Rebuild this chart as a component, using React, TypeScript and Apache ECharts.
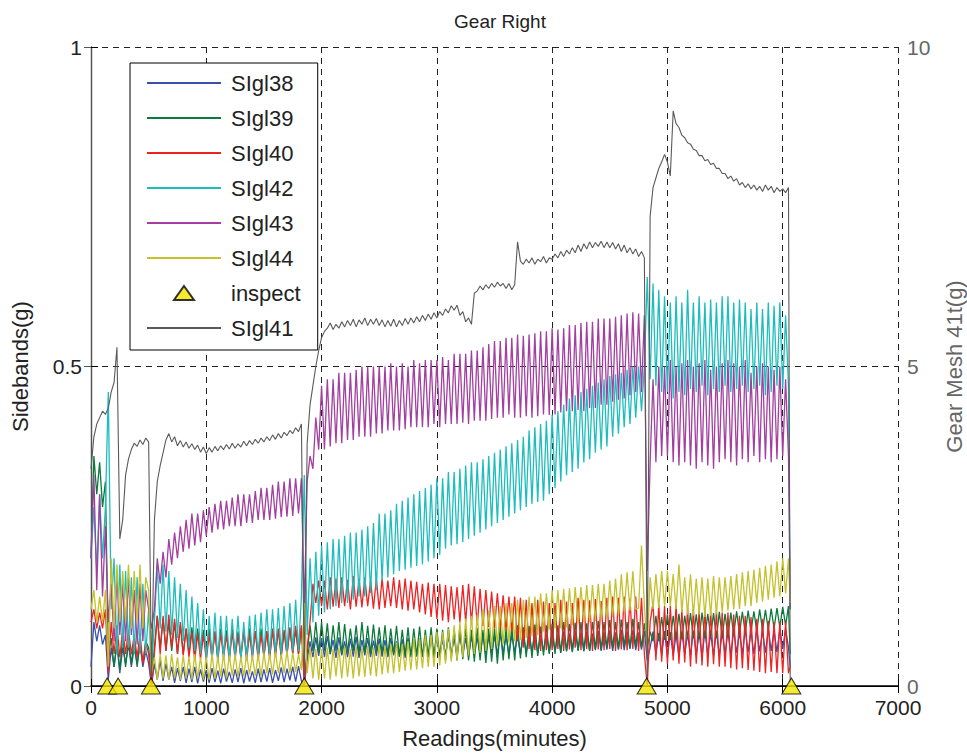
import React, { useEffect, useRef } from "react";
import * as echarts from "echarts";

const FONT = "'Liberation Sans', Arial, Helvetica, sans-serif";

const legendNames = ["SIgl38", "SIgl39", "SIgl40", "SIgl42", "SIgl43", "SIgl44", "inspect", "SIgl41"];
const xTicks = { min: 0, max: 7000, interval: 1000 };

// sample positions (minutes): every 25 minutes from 0 to 6050, then the final drop
const readings: number[] = Array.from({ length: 243 }, (_, i) => i * 25).concat([6065]);

const sigl38 = [
  0.03, 0.1, 0.07, 0.095, 0.065, 0.08, 0.01, 0.06, 0.03, 0.065, 0.02, 0.06, 0.035, 0.065, 0.03, 0.06, 0.035, 0.065, 0.03, 0.055,
  0.035, 0.0, 0.035, 0.01, 0.04, 0.008, 0.035, 0.01, 0.03, 0.005, 0.028, 0.008, 0.03, 0.005, 0.027, 0.006, 0.03, 0.004, 0.026, 0.007,
  0.025, 0.005, 0.028, 0.006, 0.024, 0.004, 0.027, 0.007, 0.022, 0.005, 0.026, 0.006, 0.028, 0.004, 0.025, 0.007, 0.023, 0.005, 0.027, 0.006,
  0.026, 0.007, 0.028, 0.005, 0.025, 0.008, 0.029, 0.006, 0.027, 0.009, 0.03, 0.007, 0.031, 0.008, 0.0, 0.04, 0.07, 0.045, 0.076, 0.047,
  0.075, 0.045, 0.078, 0.05, 0.072, 0.044, 0.076, 0.048, 0.07, 0.045, 0.074, 0.046, 0.077, 0.044, 0.072, 0.048, 0.075, 0.045, 0.071, 0.047,
  0.074, 0.046, 0.072, 0.045, 0.075, 0.048, 0.07, 0.046, 0.073, 0.044, 0.075, 0.048, 0.072, 0.046, 0.074, 0.047, 0.071, 0.045, 0.075, 0.048,
  0.076, 0.047, 0.073, 0.048, 0.078, 0.05, 0.074, 0.048, 0.079, 0.05, 0.075, 0.047, 0.078, 0.05, 0.076, 0.049, 0.08, 0.05, 0.077, 0.051,
  0.078, 0.05, 0.081, 0.052, 0.077, 0.05, 0.08, 0.053, 0.078, 0.05, 0.082, 0.052, 0.079, 0.053, 0.083, 0.051, 0.08, 0.054, 0.082, 0.052,
  0.083, 0.054, 0.08, 0.052, 0.085, 0.055, 0.082, 0.053, 0.086, 0.056, 0.083, 0.054, 0.085, 0.055, 0.082, 0.056, 0.086, 0.055, 0.084, 0.057,
  0.087, 0.055, 0.084, 0.057, 0.088, 0.056, 0.085, 0.058, 0.087, 0.056, 0.084, 0.057, 0.086, 0.04, 0.06, 0.085, 0.05, 0.083, 0.047, 0.086,
  0.045, 0.084, 0.048, 0.08, 0.046, 0.085, 0.05, 0.082, 0.047, 0.086, 0.048, 0.083, 0.046, 0.085, 0.05, 0.082, 0.048, 0.086, 0.047, 0.084,
  0.05, 0.085, 0.048, 0.087, 0.052, 0.084, 0.05, 0.088, 0.053, 0.085, 0.05, 0.089, 0.054, 0.086, 0.052, 0.09, 0.055, 0.087, 0.053, 0.09,
  0.058, 0.09, 0.06, 0.03,
];

const sigl39 = [
  0.2, 0.36, 0.3, 0.35, 0.28, 0.32, 0.05, 0.075, 0.03, 0.07, 0.025, 0.075, 0.03, 0.07, 0.035, 0.072, 0.03, 0.068, 0.035, 0.07,
  0.06, 0.01, 0.06, 0.11, 0.06, 0.105, 0.055, 0.1, 0.055, 0.1, 0.05, 0.095, 0.05, 0.09, 0.05, 0.092, 0.048, 0.09, 0.05, 0.088,
  0.05, 0.09, 0.048, 0.085, 0.045, 0.09, 0.05, 0.087, 0.046, 0.09, 0.05, 0.085, 0.045, 0.088, 0.048, 0.09, 0.05, 0.086, 0.047, 0.09,
  0.048, 0.086, 0.045, 0.09, 0.05, 0.088, 0.048, 0.085, 0.05, 0.09, 0.052, 0.088, 0.05, 0.092, 0.01, 0.05, 0.095, 0.055, 0.1, 0.052,
  0.1, 0.055, 0.098, 0.05, 0.095, 0.055, 0.1, 0.05, 0.097, 0.052, 0.09, 0.055, 0.095, 0.05, 0.1, 0.052, 0.094, 0.05, 0.096, 0.053,
  0.092, 0.05, 0.095, 0.048, 0.09, 0.05, 0.094, 0.046, 0.088, 0.048, 0.092, 0.045, 0.09, 0.047, 0.093, 0.045, 0.088, 0.046, 0.092, 0.044,
  0.09, 0.045, 0.088, 0.04, 0.092, 0.043, 0.088, 0.04, 0.093, 0.042, 0.09, 0.04, 0.088, 0.038, 0.091, 0.04, 0.088, 0.036, 0.09, 0.038,
  0.09, 0.035, 0.092, 0.04, 0.089, 0.042, 0.093, 0.04, 0.095, 0.043, 0.092, 0.045, 0.094, 0.044, 0.096, 0.047, 0.093, 0.048, 0.095, 0.05,
  0.097, 0.05, 0.095, 0.052, 0.1, 0.054, 0.097, 0.055, 0.099, 0.055, 0.1, 0.056, 0.098, 0.055, 0.1, 0.058, 0.102, 0.057, 0.1, 0.06,
  0.103, 0.06, 0.1, 0.058, 0.104, 0.062, 0.1, 0.06, 0.105, 0.062, 0.1, 0.06, 0.098, 0.06, 0.085, 0.07, 0.11, 0.07, 0.108, 0.072,
  0.112, 0.072, 0.11, 0.075, 0.113, 0.073, 0.11, 0.076, 0.114, 0.075, 0.112, 0.074, 0.115, 0.076, 0.113, 0.078, 0.114, 0.075, 0.116, 0.077,
  0.113, 0.078, 0.115, 0.08, 0.117, 0.082, 0.116, 0.083, 0.118, 0.085, 0.117, 0.086, 0.12, 0.087, 0.119, 0.088, 0.121, 0.09, 0.122, 0.092,
  0.124, 0.095, 0.125, 0.05,
];

const sigl40 = [
  0.1, 0.12, 0.09, 0.115, 0.09, 0.12, 0.02, 0.1, 0.05, 0.095, 0.045, 0.09, 0.05, 0.088, 0.05, 0.08, 0.045, 0.082, 0.035, 0.07,
  0.05, 0.0, 0.05, 0.11, 0.05, 0.11, 0.055, 0.112, 0.06, 0.105, 0.05, 0.1, 0.048, 0.09, 0.045, 0.085, 0.04, 0.082, 0.042, 0.08,
  0.04, 0.08, 0.042, 0.085, 0.04, 0.082, 0.044, 0.08, 0.04, 0.085, 0.042, 0.08, 0.045, 0.084, 0.04, 0.082, 0.043, 0.086, 0.041, 0.08,
  0.045, 0.085, 0.043, 0.088, 0.046, 0.09, 0.045, 0.088, 0.048, 0.092, 0.05, 0.094, 0.05, 0.095, 0.0, 0.06, 0.1, 0.16, 0.13, 0.165,
  0.125, 0.165, 0.12, 0.17, 0.124, 0.168, 0.122, 0.17, 0.125, 0.166, 0.12, 0.172, 0.124, 0.168, 0.123, 0.17, 0.125, 0.165, 0.121, 0.168,
  0.12, 0.168, 0.122, 0.165, 0.125, 0.17, 0.122, 0.166, 0.12, 0.168, 0.118, 0.165, 0.12, 0.163, 0.115, 0.16, 0.112, 0.162, 0.108, 0.16,
  0.105, 0.16, 0.102, 0.158, 0.1, 0.156, 0.104, 0.155, 0.1, 0.158, 0.1, 0.16, 0.098, 0.156, 0.095, 0.152, 0.094, 0.15, 0.092, 0.148,
  0.09, 0.145, 0.09, 0.142, 0.088, 0.14, 0.085, 0.14, 0.07, 0.138, 0.06, 0.135, 0.058, 0.13, 0.056, 0.135, 0.055, 0.132, 0.056, 0.13,
  0.056, 0.13, 0.058, 0.135, 0.055, 0.132, 0.057, 0.13, 0.06, 0.138, 0.056, 0.135, 0.058, 0.134, 0.055, 0.136, 0.057, 0.133, 0.056, 0.138,
  0.058, 0.14, 0.055, 0.138, 0.057, 0.14, 0.056, 0.137, 0.058, 0.14, 0.055, 0.138, 0.05, 0.0, 0.1, 0.13, 0.04, 0.128, 0.038, 0.125,
  0.035, 0.125, 0.04, 0.128, 0.035, 0.12, 0.037, 0.122, 0.03, 0.12, 0.035, 0.118, 0.032, 0.12, 0.03, 0.116, 0.034, 0.118, 0.03, 0.115,
  0.03, 0.115, 0.028, 0.112, 0.026, 0.11, 0.028, 0.11, 0.025, 0.108, 0.024, 0.105, 0.022, 0.105, 0.02, 0.102, 0.022, 0.1, 0.02, 0.1,
  0.02, 0.1, 0.02, 0.03,
];

const sigl42 = [
  0.2, 0.28, 0.18, 0.3, 0.2, 0.28, 0.46, 0.12, 0.2, 0.05, 0.19, 0.06, 0.18, 0.06, 0.17, 0.05, 0.17, 0.055, 0.16, 0.05,
  0.12, 0.02, 0.1, 0.19, 0.09, 0.19, 0.085, 0.18, 0.08, 0.17, 0.075, 0.16, 0.07, 0.15, 0.06, 0.14, 0.055, 0.13, 0.05, 0.12,
  0.04, 0.11, 0.04, 0.115, 0.038, 0.11, 0.042, 0.11, 0.04, 0.105, 0.045, 0.11, 0.04, 0.1, 0.04, 0.11, 0.045, 0.112, 0.045, 0.115,
  0.05, 0.12, 0.048, 0.12, 0.05, 0.122, 0.05, 0.125, 0.052, 0.13, 0.055, 0.135, 0.055, 0.14, 0.33, 0.08, 0.2, 0.1, 0.21, 0.11,
  0.22, 0.115, 0.225, 0.12, 0.23, 0.125, 0.23, 0.13, 0.235, 0.13, 0.24, 0.135, 0.24, 0.14, 0.245, 0.14, 0.25, 0.145, 0.255, 0.15,
  0.27, 0.165, 0.27, 0.17, 0.275, 0.175, 0.285, 0.18, 0.29, 0.182, 0.295, 0.185, 0.3, 0.188, 0.305, 0.19, 0.31, 0.195, 0.315, 0.2,
  0.325, 0.205, 0.325, 0.215, 0.335, 0.22, 0.335, 0.222, 0.34, 0.225, 0.345, 0.23, 0.35, 0.235, 0.35, 0.24, 0.355, 0.245, 0.36, 0.25,
  0.365, 0.255, 0.37, 0.26, 0.375, 0.265, 0.38, 0.27, 0.385, 0.275, 0.39, 0.28, 0.4, 0.285, 0.405, 0.288, 0.41, 0.29, 0.415, 0.3,
  0.425, 0.31, 0.43, 0.32, 0.44, 0.33, 0.45, 0.335, 0.455, 0.34, 0.46, 0.35, 0.465, 0.355, 0.47, 0.365, 0.475, 0.37, 0.48, 0.375,
  0.485, 0.39, 0.488, 0.395, 0.49, 0.405, 0.495, 0.41, 0.5, 0.42, 0.5, 0.43, 0.5, 0.64, 0.48, 0.63, 0.47, 0.62, 0.46, 0.61,
  0.46, 0.6, 0.45, 0.61, 0.46, 0.6, 0.455, 0.62, 0.465, 0.6, 0.46, 0.61, 0.47, 0.6, 0.455, 0.605, 0.465, 0.6, 0.46, 0.61,
  0.47, 0.61, 0.46, 0.6, 0.465, 0.605, 0.47, 0.6, 0.46, 0.59, 0.465, 0.6, 0.47, 0.59, 0.455, 0.6, 0.46, 0.595, 0.47, 0.6,
  0.465, 0.58, 0.47, 0.12,
];

const sigl43 = [
  0.2, 0.33, 0.15, 0.3, 0.14, 0.25, 0.1, 0.16, 0.07, 0.17, 0.08, 0.16, 0.07, 0.17, 0.08, 0.15, 0.065, 0.16, 0.07, 0.15,
  0.12, 0.09, 0.12, 0.2, 0.16, 0.21, 0.17, 0.23, 0.19, 0.24, 0.2, 0.25, 0.21, 0.26, 0.215, 0.27, 0.22, 0.27, 0.225, 0.275,
  0.235, 0.28, 0.24, 0.285, 0.245, 0.29, 0.245, 0.29, 0.25, 0.295, 0.25, 0.3, 0.25, 0.3, 0.255, 0.3, 0.255, 0.305, 0.26, 0.31,
  0.26, 0.31, 0.26, 0.315, 0.262, 0.32, 0.264, 0.32, 0.265, 0.325, 0.266, 0.325, 0.27, 0.325, 0.12, 0.32, 0.36, 0.34, 0.42, 0.37,
  0.47, 0.37, 0.48, 0.375, 0.48, 0.38, 0.49, 0.38, 0.49, 0.385, 0.49, 0.385, 0.495, 0.39, 0.5, 0.39, 0.5, 0.39, 0.5, 0.395,
  0.5, 0.395, 0.5, 0.4, 0.505, 0.4, 0.5, 0.4, 0.505, 0.402, 0.5, 0.405, 0.51, 0.405, 0.505, 0.405, 0.51, 0.405, 0.51, 0.41,
  0.51, 0.405, 0.515, 0.41, 0.51, 0.41, 0.52, 0.41, 0.52, 0.412, 0.52, 0.41, 0.525, 0.415, 0.525, 0.415, 0.53, 0.415, 0.535, 0.418,
  0.54, 0.42, 0.54, 0.42, 0.545, 0.425, 0.545, 0.42, 0.55, 0.42, 0.548, 0.422, 0.55, 0.42, 0.552, 0.422, 0.555, 0.425, 0.555, 0.424,
  0.56, 0.425, 0.558, 0.428, 0.56, 0.43, 0.565, 0.43, 0.565, 0.432, 0.568, 0.43, 0.57, 0.435, 0.57, 0.435, 0.575, 0.44, 0.575, 0.44,
  0.575, 0.445, 0.578, 0.448, 0.58, 0.45, 0.583, 0.455, 0.585, 0.46, 0.583, 0.46, 0.58, 0.18, 0.35, 0.48, 0.35, 0.5, 0.36, 0.5,
  0.36, 0.51, 0.35, 0.5, 0.345, 0.505, 0.35, 0.51, 0.345, 0.5, 0.34, 0.505, 0.35, 0.51, 0.345, 0.495, 0.34, 0.5, 0.35, 0.505,
  0.355, 0.51, 0.35, 0.505, 0.345, 0.5, 0.355, 0.51, 0.35, 0.49, 0.36, 0.5, 0.35, 0.505, 0.355, 0.5, 0.35, 0.495, 0.355, 0.5,
  0.36, 0.48, 0.36, 0.12,
];

const sigl44 = [
  0.12, 0.15, 0.1, 0.14, 0.1, 0.15, 0.03, 0.2, 0.09, 0.19, 0.1, 0.18, 0.1, 0.19, 0.09, 0.18, 0.1, 0.19, 0.09, 0.17,
  0.15, 0.02, 0.045, 0.01, 0.05, 0.012, 0.048, 0.01, 0.05, 0.012, 0.045, 0.01, 0.048, 0.012, 0.046, 0.01, 0.05, 0.012, 0.045, 0.01,
  0.045, 0.01, 0.05, 0.012, 0.046, 0.015, 0.05, 0.012, 0.048, 0.016, 0.05, 0.014, 0.046, 0.015, 0.05, 0.018, 0.048, 0.016, 0.05, 0.015,
  0.052, 0.02, 0.05, 0.018, 0.054, 0.02, 0.05, 0.02, 0.055, 0.02, 0.052, 0.022, 0.05, 0.025, 0.13, 0.02, 0.06, 0.012, 0.058, 0.01,
  0.058, 0.012, 0.06, 0.01, 0.058, 0.015, 0.06, 0.012, 0.062, 0.014, 0.058, 0.012, 0.062, 0.015, 0.06, 0.014, 0.063, 0.016, 0.06, 0.015,
  0.065, 0.018, 0.062, 0.02, 0.065, 0.02, 0.068, 0.022, 0.066, 0.024, 0.07, 0.025, 0.075, 0.026, 0.074, 0.028, 0.08, 0.03, 0.08, 0.03,
  0.085, 0.032, 0.085, 0.035, 0.09, 0.038, 0.095, 0.04, 0.1, 0.045, 0.105, 0.048, 0.11, 0.05, 0.112, 0.052, 0.12, 0.055, 0.118, 0.058,
  0.125, 0.062, 0.125, 0.065, 0.13, 0.068, 0.13, 0.07, 0.135, 0.072, 0.135, 0.075, 0.14, 0.078, 0.14, 0.08, 0.145, 0.085, 0.145, 0.088,
  0.15, 0.09, 0.15, 0.09, 0.152, 0.092, 0.153, 0.095, 0.155, 0.098, 0.155, 0.1, 0.158, 0.1, 0.158, 0.102, 0.16, 0.105, 0.16, 0.106,
  0.165, 0.108, 0.168, 0.11, 0.175, 0.115, 0.178, 0.118, 0.18, 0.12, 0.122, 0.22, 0.125, 0.06, 0.17, 0.12, 0.175, 0.122, 0.18, 0.125,
  0.18, 0.125, 0.175, 0.12, 0.19, 0.115, 0.17, 0.112, 0.175, 0.11, 0.168, 0.112, 0.17, 0.108, 0.168, 0.11, 0.172, 0.112, 0.17, 0.115,
  0.17, 0.118, 0.172, 0.12, 0.175, 0.12, 0.178, 0.125, 0.18, 0.125, 0.182, 0.13, 0.185, 0.132, 0.188, 0.135, 0.19, 0.138, 0.195, 0.14,
  0.2, 0.145, 0.2, 0.13,
];

// SIgl41, right axis, same readings
const sigl41 = [
  3.4, 3.9, 4.1, 4.2, 4.3, 4.25, 4.35, 4.6, 4.75, 5.3, 2.3, 2.6, 3.3, 3.55, 3.7, 3.8, 3.75, 3.85, 3.78, 3.88,
  3.82, 0.1, 2.6, 3.2, 3.45, 3.65, 3.85, 3.95, 3.82, 3.9, 3.76, 3.84, 3.74, 3.82, 3.72, 3.79, 3.7, 3.77, 3.66, 3.74,
  3.64, 3.73, 3.66, 3.75, 3.68, 3.76, 3.7, 3.78, 3.71, 3.8, 3.72, 3.79, 3.74, 3.83, 3.76, 3.84, 3.78, 3.86, 3.8, 3.88,
  3.82, 3.9, 3.84, 3.93, 3.86, 3.95, 3.88, 3.97, 3.92, 4.0, 3.95, 4.04, 3.98, 4.1, 0.1, 3.8, 4.4, 4.7, 5.0, 5.25,
  5.45, 5.55, 5.6, 5.68, 5.58, 5.66, 5.6, 5.7, 5.62, 5.72, 5.64, 5.74, 5.62, 5.73, 5.66, 5.76, 5.64, 5.74, 5.66, 5.75,
  5.64, 5.73, 5.62, 5.72, 5.63, 5.74, 5.62, 5.72, 5.64, 5.75, 5.66, 5.76, 5.68, 5.78, 5.7, 5.8, 5.72, 5.82, 5.74, 5.84,
  5.76, 5.86, 5.8, 5.9, 5.84, 5.95, 5.88, 5.96, 5.8, 5.86, 5.7, 5.76, 5.66, 6.15, 6.18, 6.26, 6.2, 6.28, 6.22, 6.3,
  6.24, 6.32, 6.26, 6.3, 6.22, 6.3, 6.2, 6.28, 6.95, 6.65, 6.6, 6.68, 6.62, 6.7, 6.6, 6.68, 6.64, 6.72, 6.62, 6.7,
  6.68, 6.76, 6.7, 6.8, 6.72, 6.82, 6.76, 6.86, 6.78, 6.9, 6.8, 6.92, 6.84, 6.95, 6.86, 6.94, 6.88, 6.96, 6.86, 6.95,
  6.86, 6.94, 6.84, 6.92, 6.8, 6.9, 6.78, 6.86, 6.76, 6.84, 6.72, 6.8, 6.7, 0.1, 7.35, 7.8, 7.95, 8.1, 8.2, 8.32,
  8.2, 7.98, 9.0, 8.8, 8.74, 8.62, 8.58, 8.5, 8.48, 8.4, 8.38, 8.3, 8.3, 8.22, 8.24, 8.16, 8.18, 8.1, 8.1, 8.02,
  8.02, 7.94, 7.98, 7.9, 7.94, 7.84, 7.88, 7.8, 7.86, 7.78, 7.84, 7.76, 7.82, 7.74, 7.84, 7.76, 7.82, 7.72, 7.8, 7.74,
  7.78, 7.72, 7.8, 0.05,
];

const inspectMinutes = [140, 235, 520, 1850, 4820, 6075];

const colors: Record<string, string> = {
  SIgl38: "#3a50aa",
  SIgl39: "#0b7a3b",
  SIgl40: "#ee2222",
  SIgl42: "#1ebdbd",
  SIgl43: "#a23fa0",
  SIgl44: "#c4c12c",
  SIgl41: "#5a5a5a",
};

const pair = (vals: number[]) => readings.map((x, i) => [x, vals[i]]);

export default function App() {
  const ref = useRef<HTMLDivElement>(null);
  useEffect(() => {
    if (!ref.current) return;
    const chart = echarts.init(ref.current, undefined, { renderer: "svg" });
    const lineSeries = (name: string, vals: number[], yAxisIndex = 0, width = 1.3) => ({
      name,
      type: "line",
      data: pair(vals),
      showSymbol: false,
      symbol: "none",
      xAxisIndex: 0,
      yAxisIndex,
      lineStyle: { width, color: colors[name] },
      itemStyle: { color: colors[name], opacity: 0 },
      emphasis: { disabled: true },
    });
    const axisLabel = { fontSize: 21, color: "#222", fontFamily: FONT };
    const plain = (v: number) => String(v);
    chart.setOption({
      animation: false,
      backgroundColor: "#fff",
      textStyle: { fontFamily: FONT },
      title: {
        text: "Gear Right",
        left: 495,
        top: 7,
        textAlign: "center",
        textStyle: { fontSize: 19, fontWeight: "normal", color: "#222", fontFamily: FONT },
      },
      grid: {
        left: 91,
        right: 69,
        top: 47,
        bottom: 69,
        containLabel: false,
        outerBoundsMode: "none",
      },
      legend: {
        data: legendNames.map((n) =>
          n === "inspect" ? { name: n, icon: "path://M10,0L20,14L0,14Z" } : { name: n }
        ),
        orient: "vertical",
        left: 130,
        top: 63,
        itemWidth: 74,
        itemHeight: 14,
        itemGap: 13,
        padding: [9, 17, 11, 16],
        backgroundColor: "#fff",
        borderColor: "#000",
        borderWidth: 1,
        borderRadius: 0,
        textStyle: { fontSize: 22, color: "#222", fontFamily: FONT, padding: [0, 0, 0, 5] },
        selectedMode: false,
      },
      xAxis: [
        {
          type: "value",
          position: "bottom",
          ...xTicks,
          name: "Readings(minutes)",
          nameLocation: "middle",
          nameGap: 41,
          nameTextStyle: { fontSize: 22, color: "#222", fontFamily: FONT },
          axisLine: { show: true, lineStyle: { color: "#000", width: 1.5 } },
          axisTick: { inside: true, length: 7, lineStyle: { color: "#000" } },
          axisLabel: { ...axisLabel, margin: 11, formatter: plain },
          splitLine: { show: true, lineStyle: { color: "#222", type: [6, 5], width: 1 } },
        },
        {
          type: "value",
          position: "top",
          ...xTicks,
          axisLine: { show: true, lineStyle: { color: "#000", width: 1 } },
          axisTick: { inside: true, length: 7, lineStyle: { color: "#000" } },
          axisLabel: { show: false },
          splitLine: { show: false },
        },
      ],
      yAxis: [
        {
          type: "value",
          min: 0,
          max: 1,
          interval: 0.5,
          name: "Sidebands(g)",
          nameLocation: "middle",
          nameRotate: 90,
          nameGap: 60,
          nameTextStyle: { fontSize: 22, color: "#222", fontFamily: FONT },
          axisLine: { show: true, lineStyle: { color: "#000", width: 1.2 } },
          axisTick: { show: true, inside: true, length: 7, lineStyle: { color: "#000" } },
          axisLabel: { ...axisLabel, margin: 9, formatter: plain },
          splitLine: { show: true, lineStyle: { color: "#222", type: [6, 5], width: 1 } },
        },
        {
          type: "value",
          min: 0,
          max: 10,
          interval: 5,
          position: "right",
          name: "Gear Mesh 41t(g)",
          nameLocation: "middle",
          nameRotate: 90,
          nameGap: 45,
          nameTextStyle: { fontSize: 22, color: "#666", fontFamily: FONT },
          axisLine: { show: true, lineStyle: { color: "#555", width: 1.2 } },
          axisTick: { show: true, inside: true, length: 7, lineStyle: { color: "#555" } },
          axisLabel: { fontSize: 21, color: "#666", fontFamily: FONT, margin: 9, formatter: plain },
          splitLine: { show: false },
        },
      ],
      series: [
        lineSeries("SIgl38", sigl38),
        lineSeries("SIgl39", sigl39),
        lineSeries("SIgl40", sigl40),
        lineSeries("SIgl42", sigl42),
        lineSeries("SIgl43", sigl43),
        lineSeries("SIgl44", sigl44),
        { ...lineSeries("SIgl41", sigl41, 1, 1.1), z: 3 },
        {
          name: "inspect",
          type: "scatter",
          data: inspectMinutes.map((m) => [m, 0]),
          symbol: "triangle",
          symbolSize: [19, 16],
          clip: false,
          xAxisIndex: 0,
          yAxisIndex: 0,
          itemStyle: { color: "#f2e600", borderColor: "#000", borderWidth: 1 },
          emphasis: { disabled: true },
          z: 4,
        },
      ],
    });
    return () => chart.dispose();
  }, []);
  return (
    <div
      ref={ref}
      style={{ position: "fixed", left: 0, top: 0, width: 967, height: 755, background: "#fff" }}
    />
  );
}
